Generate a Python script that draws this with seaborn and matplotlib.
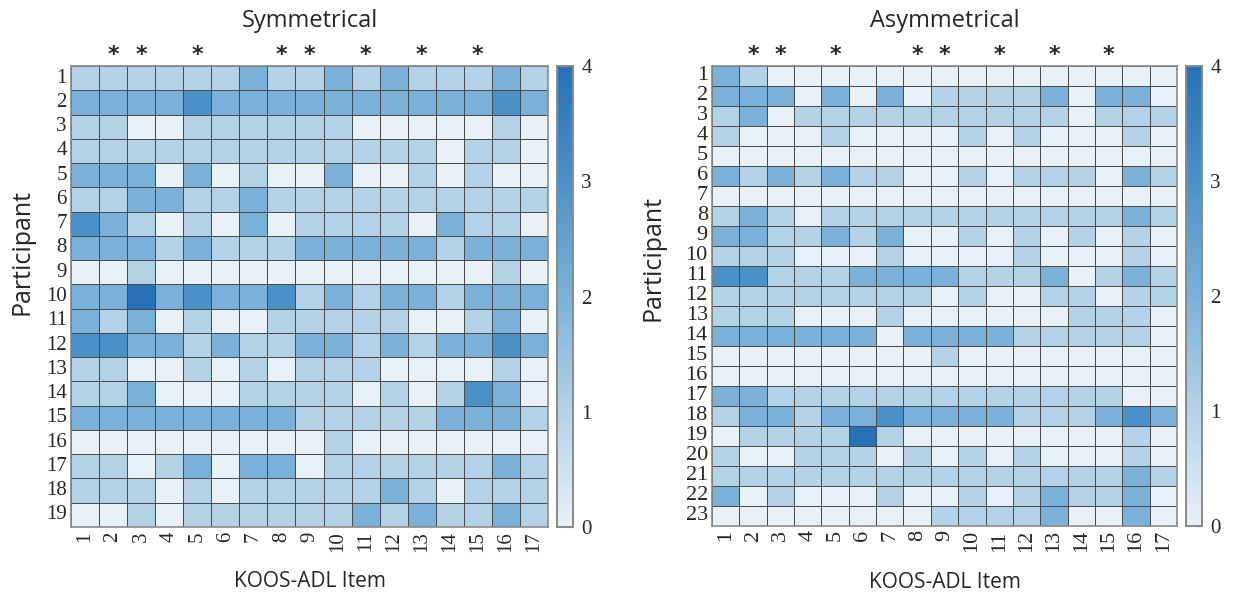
import numpy as np
import pandas as pd
import matplotlib
matplotlib.use("Agg")
import matplotlib.pyplot as plt
import seaborn as sns
from matplotlib.colors import LinearSegmentedColormap
from matplotlib.ticker import MultipleLocator

items = list(range(1, 18))
sym_participants = list(range(1, 20))
asym_participants = list(range(1, 24))
sig_items = [2, 3, 5, 8, 9, 11, 13, 15]

sym_scores = [
    [1,1,1,1,1,1,2,1,1,2,1,2,1,1,1,2,1],
    [2,2,2,2,3,2,2,2,2,2,2,2,2,2,2,3,2],
    [1,1,0,0,1,1,1,1,1,1,0,0,0,0,0,1,0],
    [1,1,1,1,1,1,1,1,1,1,1,1,1,0,1,1,0],
    [2,2,2,0,2,0,1,0,0,2,0,0,1,0,1,0,0],
    [1,1,2,2,1,1,2,1,1,1,1,1,1,1,1,1,1],
    [3,2,1,0,1,0,2,0,1,1,1,1,0,2,1,1,0],
    [2,2,2,1,2,1,1,1,2,2,2,2,2,1,2,2,2],
    [0,0,1,0,0,0,0,0,0,0,0,0,0,0,0,1,0],
    [2,2,4,2,3,2,2,3,1,2,1,2,2,1,2,2,2],
    [2,1,2,0,1,0,0,1,1,1,1,1,0,0,1,2,0],
    [3,3,2,2,1,2,1,1,2,2,1,2,1,2,2,3,2],
    [1,1,0,0,1,0,1,0,1,1,1,0,0,0,0,1,0],
    [1,1,2,0,0,0,1,1,1,1,0,1,0,1,3,2,0],
    [2,2,2,2,2,2,2,2,1,1,1,1,1,2,2,2,1],
    [0,0,0,0,0,0,0,0,0,1,0,0,0,0,0,0,0],
    [1,1,0,1,2,0,2,2,0,1,1,1,1,1,1,2,1],
    [1,1,1,0,1,0,1,1,1,1,1,2,1,0,1,1,1],
    [0,0,1,0,1,1,1,1,1,1,2,1,2,1,1,2,1],
]

asym_scores = [
    [2,1,0,0,0,0,0,0,0,0,0,0,0,0,0,0,0],
    [2,2,2,0,2,0,2,0,1,1,1,1,2,0,2,2,0],
    [1,2,0,1,1,1,1,1,1,1,1,1,1,0,1,1,1],
    [1,0,0,0,1,0,0,0,0,1,0,1,0,0,0,1,0],
    [0,0,0,0,0,0,0,0,0,0,0,0,0,0,0,0,0],
    [2,1,2,1,2,1,1,0,0,1,0,1,1,1,0,2,1],
    [0,0,0,0,0,0,0,0,0,0,0,0,0,0,0,0,0],
    [1,2,1,0,1,1,1,1,1,1,1,1,1,1,1,2,1],
    [2,2,1,1,2,1,2,0,0,1,0,1,0,1,0,1,0],
    [1,1,1,0,0,0,1,0,0,0,0,1,0,0,0,1,0],
    [3,3,1,1,1,2,2,2,2,1,1,1,2,0,1,2,1],
    [1,1,1,1,1,1,1,1,0,1,0,0,1,1,0,1,1],
    [1,1,1,0,0,0,1,0,0,0,0,0,0,1,1,1,0],
    [2,2,2,2,2,2,0,2,2,2,2,1,1,1,1,1,0],
    [0,0,0,0,0,0,0,0,1,0,0,0,0,0,0,0,0],
    [0,0,0,0,0,0,0,0,0,0,0,0,0,0,0,0,0],
    [2,2,1,1,1,1,1,1,1,1,1,1,1,1,1,0,0],
    [1,2,2,1,2,2,3,2,2,2,2,1,1,1,2,3,2],
    [0,1,1,1,1,4,1,0,0,0,0,0,0,0,0,1,0],
    [1,0,0,1,1,1,0,1,0,1,0,1,0,0,0,1,0],
    [1,1,1,1,1,1,1,1,1,1,1,1,1,1,1,2,1],
    [2,0,1,0,0,0,1,0,0,1,0,1,2,1,1,2,0],
    [0,0,0,0,0,0,0,0,1,1,1,1,2,0,0,2,0],
]

sns.set_theme(style="white")
plt.rcParams["font.family"] = ["Open Sans", "DejaVu Sans"]

cmap = LinearSegmentedColormap.from_list(
    "koos",
    [(0.0, "#e8f0f8"), (0.25, "#b3d2e7"), (0.5, "#7bb1d8"),
     (0.75, "#4a91c7"), (1.0, "#2871b6")],
)

W, H = 1240, 596
fig = plt.figure(figsize=(W / 100, H / 100), dpi=100)


def box(x0, y0, x1, y1):
    return [x0 / W, 1 - y1 / H, (x1 - x0) / W, (y1 - y0) / H]


serif = ["Liberation Serif", "DejaVu Serif"]
panels = [
    ("Symmetrical", sym_scores, sym_participants, (71, 66, 548, 527), (557, 66, 573, 527), 15, 22, 252),
    ("Asymmetrical", asym_scores, asym_participants, (712, 66, 1177, 526), (1186, 66, 1202, 526), 16, 653, 258),
]

for title, scores, parts, gb, cb, tfs, ylab_x, ylab_y in panels:
    ax = fig.add_axes(box(*gb))
    cax = fig.add_axes(box(*cb))
    df = pd.DataFrame(scores, index=parts, columns=items)
    sns.heatmap(df, ax=ax, cbar_ax=cax, cmap=cmap, vmin=0, vmax=4,
                linewidths=0.7, linecolor="#4a4a4a", square=False)
    for s in ax.spines.values():
        s.set_visible(True)
        s.set_color("#8a8a8a")
        s.set_linewidth(1.2)
    ax.set_yticklabels([str(p) for p in parts], rotation=0, fontsize=tfs,
                       family=serif)
    ax.set_xticklabels([str(i) for i in items], rotation=90, fontsize=tfs,
                       family=serif)
    ax.tick_params(axis="both", length=0, pad=3)
    ax.set_xlabel("KOOS-ADL Item", fontsize=15, labelpad=14)
    ax.set_ylabel("")
    ax.set_title(title, fontsize=17, pad=28)
    fig.text(ylab_x / W, 1 - ylab_y / H, "Participant",
             rotation=90, fontsize=18, ha="center", va="center")
    for it in sig_items:
        ax.annotate("*", xy=(items.index(it) + 0.5, 1.0),
                    xycoords=("data", "axes fraction"),
                    xytext=(0, 1), textcoords="offset points",
                    ha="center", va="bottom", fontsize=16, fontweight="bold",
                    family=["DejaVu Sans"])
    cax.yaxis.set_major_locator(MultipleLocator(1))
    cax.yaxis.set_minor_locator(MultipleLocator(0.5))
    cax.tick_params(which="major", length=5, width=0.8, direction="in",
                    labelsize=15, pad=6, color="#333333")
    cax.tick_params(which="minor", length=3, width=0.8, direction="in",
                    color="#333333")
    for lab in cax.get_yticklabels():
        lab.set_family(serif)
    cax.yaxis.set_ticks_position("right")
    for s in cax.spines.values():
        s.set_visible(True)
        s.set_color("#8a8a8a")
        s.set_linewidth(1.2)

fig.savefig("out.png", dpi=100)
